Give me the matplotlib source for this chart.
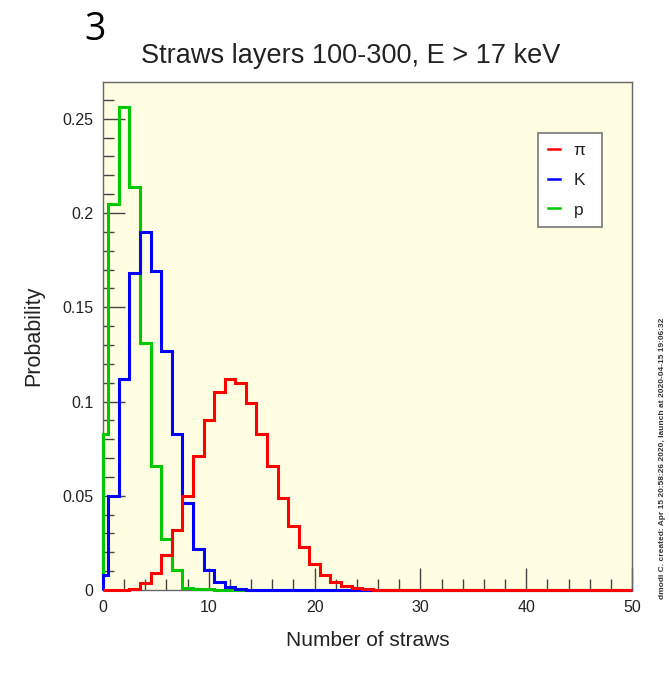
import numpy as np
import matplotlib
matplotlib.use("Agg")
import matplotlib.pyplot as plt
from matplotlib.ticker import MultipleLocator

# ヒストグラムの値 (ビン中心 = 0, 1, 2, ...)
bin_centers = np.arange(0, 51)
prob_pi = [0, 0, 0, 0.0005, 0.0037, 0.009, 0.0185, 0.032, 0.050, 0.071,
           0.090, 0.105, 0.112, 0.110, 0.099, 0.083, 0.066, 0.049, 0.034, 0.023,
           0.0138, 0.008, 0.0043, 0.002, 0.001, 0.0005]
prob_k = [0.008, 0.050, 0.112, 0.168, 0.190, 0.169, 0.127, 0.083, 0.046, 0.022,
          0.0106, 0.0042, 0.0016, 0.0005]
prob_p = [0.083, 0.205, 0.256, 0.214, 0.131, 0.066, 0.027, 0.0106, 0.0013, 0.0005,
          0.0003]

series = [("p", prob_p, "#00c800"), ("K", prob_k, "#0000ff"), ("π", prob_pi, "#ff0000")]

title = "Straws layers 100-300, E > 17 keV"
x_label = "Number of straws"
y_label = "Probability"
stamp = "dmodi C. created: Apr 15 20:58:26 2020, launch at 2020-04-15 19:06:32"

plt.rcParams["font.family"] = ["Liberation Sans", "DejaVu Sans"]

W, H = 669, 685
fig = plt.figure(figsize=(W / 100, H / 100), dpi=100)
fig.patch.set_facecolor("white")

x0, x1, y0, y1 = 103, 632, 82, 590
ax = fig.add_axes([x0 / W, 1 - y1 / H, (x1 - x0) / W, (y1 - y0) / H])
ax.set_facecolor("#fffde2")

# ビン境界 (表示範囲 0-50 に切り詰め)
edges = np.concatenate([[0], bin_centers[:-1] + 0.5, [50]])
lines = {}
for name, vals, col in series:
    v = np.zeros(len(bin_centers))
    v[:len(vals)] = vals
    ax.stairs(v, edges, color=col, lw=2.2, clip_on=False, zorder=3)
    lines[name] = plt.Line2D([], [], color=col, lw=1.8)

ax.set_xlim(0, 50)
ax.set_ylim(0, 0.2695)
ax.xaxis.set_major_locator(MultipleLocator(10))
ax.xaxis.set_minor_locator(MultipleLocator(2))
ax.yaxis.set_major_locator(MultipleLocator(0.05))
ax.yaxis.set_minor_locator(MultipleLocator(0.01))
ax.set_yticks([0, 0.05, 0.1, 0.15, 0.2, 0.25])
ax.set_yticklabels(["0", "0.05", "0.1", "0.15", "0.2", "0.25"])
ax.tick_params(which="both", direction="in", colors="#444444", labelcolor="#222222",
               labelsize=11.5, pad=7, width=1)
ax.tick_params(which="major", length=16)
ax.tick_params(which="minor", length=8)
for s in ax.spines.values():
    s.set_color("#666666")
    s.set_linewidth(1)

ax.set_xlabel(x_label, fontsize=15, color="#222222", labelpad=12)
ax.set_ylabel(y_label, fontsize=15.5, color="#222222", labelpad=13)

# 凡例の枠 (axes 座標)
lx0 = (538 - x0) / (x1 - x0)
lx1 = (602 - x0) / (x1 - x0)
ly1 = 1 - (133 - y0) / (y1 - y0)
ly0 = 1 - (227 - y0) / (y1 - y0)
leg = ax.legend([lines["π"], lines["K"], lines["p"]], ["π", "K", "p"],
                loc="upper left", bbox_to_anchor=(lx0, ly0, lx1 - lx0, ly1 - ly0),
                mode="expand", fontsize=12.5, handlelength=0.7, handletextpad=0.8,
                labelspacing=0.85, borderpad=0.55, borderaxespad=0, fancybox=False,
                framealpha=1, edgecolor="#777777")
leg.get_frame().set_linewidth(1.2)
for t in leg.get_texts():
    t.set_color("#222222")
leg.set_zorder(5)

fig.text(351 / W, 1 - 56 / H, title, ha="center", va="center", fontsize=19.5, color="#222222")
fig.text(95 / W, 1 - 30 / H, "3", ha="center", va="center", fontsize=27,
         family="Open Sans", color="black")
fig.text(663 / W, 1 - 458 / H, stamp, ha="center", va="center", rotation=90,
         fontsize=6, fontweight="bold", color="#333333")

fig.savefig("out.png", dpi=100)
